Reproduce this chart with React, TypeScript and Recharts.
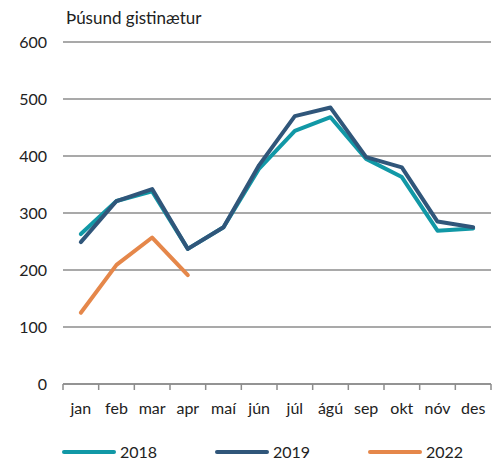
import { CartesianGrid, Legend, Line, LineChart, XAxis, YAxis } from 'recharts';

const months = ['jan', 'feb', 'mar', 'apr', 'maí', 'jún', 'júl', 'ágú', 'sep', 'okt', 'nóv', 'des'];
const y2018 = [263, 321, 338, 237, 275, 378, 444, 468, 395, 363, 269, 273];
const y2019 = [249, 321, 342, 237, 275, 384, 470, 485, 398, 380, 285, 275];
const y2022: (number | null)[] = [125, 209, 257, 191, null, null, null, null, null, null, null, null];
const yTicks = [0, 100, 200, 300, 400, 500, 600];

const series = [
  { key: 'y2018', name: '2018', color: '#1198a6' },
  { key: 'y2019', name: '2019', color: '#30567a' },
  { key: 'y2022', name: '2022', color: '#e5874a' },
];

const data = months.map((m, i) => ({
  pos: i + 0.5,
  month: m,
  y2018: y2018[i],
  y2019: y2019[i],
  y2022: y2022[i],
}));

const WIDTH = 494;
const HEIGHT = 461;
const LEFT = 63;
const RIGHT = 3;
const band = (WIDTH - LEFT - RIGHT) / months.length;
const font = 'Lato, "Open Sans", sans-serif';

function MonthTick({ x, y, payload }: { x?: number; y?: number; payload?: { value: number } }) {
  const idx = payload?.value ?? 0;
  if (idx >= months.length) return null;
  return (
    <text
      x={(x ?? 0) + band / 2}
      y={(y ?? 0) + 22}
      textAnchor="middle"
      fontSize={16}
      fontFamily={font}
      fill="#222"
    >
      {months[idx]}
    </text>
  );
}

function LegendContent() {
  const starts = [62, 215, 368];
  return (
    <div style={{ position: 'relative', height: 30, width: WIDTH }}>
      {series.map((s, i) => (
        <div key={s.key}>
          <div
            style={{
              position: 'absolute',
              left: starts[i],
              top: 19,
              width: 54,
              height: 4,
              borderRadius: 2,
              background: s.color,
            }}
          />
          <span
            style={{
              position: 'absolute',
              left: starts[i] + 58,
              top: 11,
              fontSize: 16,
              lineHeight: '20px',
              fontFamily: font,
              color: '#222',
            }}
          >
            {s.name}
          </span>
        </div>
      ))}
    </div>
  );
}

export default function App() {
  return (
    <div style={{ position: 'absolute', left: 0, top: 0, width: WIDTH, height: HEIGHT, background: '#fff' }}>
      <div
        style={{
          position: 'absolute',
          left: 66,
          top: 7,
          fontSize: 17,
          lineHeight: '22px',
          fontFamily: font,
          color: '#222',
          zIndex: 1,
        }}
      >
        Þúsund gistinætur
      </div>
      <LineChart
        width={WIDTH}
        height={HEIGHT}
        data={data}
        margin={{ top: 42, right: RIGHT, left: 0, bottom: 0 }}
      >
        <CartesianGrid vertical={false} stroke="#8c8c8c" strokeWidth={1.5} />
        <XAxis
          dataKey="pos"
          type="number"
          domain={[0, 12]}
          ticks={[0, 1, 2, 3, 4, 5, 6, 7, 8, 9, 10, 11, 12]}
          interval={0}
          height={47}
          stroke="#8c8c8c"
          strokeWidth={1.5}
          tickSize={6}
          tick={<MonthTick />}
        />
        <YAxis
          domain={[0, 600]}
          ticks={yTicks}
          width={LEFT}
          axisLine={false}
          tickLine={false}
          tickSize={0}
          tickMargin={16}
          tick={{ fontSize: 16, fontFamily: font, fill: '#222' }}
        />
        <Legend verticalAlign="bottom" height={30} content={<LegendContent />} />
        {series.map((s) => (
          <Line
            key={s.key}
            dataKey={s.key}
            name={s.name}
            stroke={s.color}
            strokeWidth={4}
            dot={false}
            activeDot={false}
            isAnimationActive={false}
            strokeLinecap="round"
            strokeLinejoin="round"
          />
        ))}
      </LineChart>
    </div>
  );
}
